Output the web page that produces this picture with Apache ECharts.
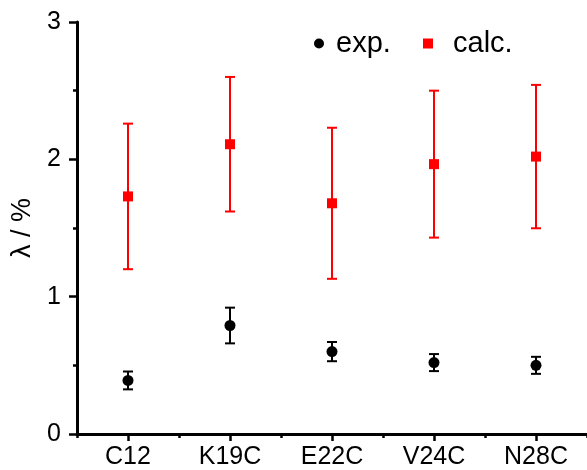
<!DOCTYPE html>
<html>
<head>
<meta charset="utf-8">
<script src="https://cdn.jsdelivr.net/npm/echarts@6/dist/echarts.min.js"></script>
<style>html,body{margin:0;padding:0;background:#fff;}#c{width:587px;height:470px;}</style>
</head>
<body>
<div id="c"></div>
<script>
const categories = ['C12', 'K19C', 'E22C', 'V24C', 'N28C'];
const expValues = [0.39, 0.79, 0.60, 0.52, 0.50];
const expErrors = [0.065, 0.13, 0.07, 0.062, 0.062];
const calcValues = [1.73, 2.11, 1.68, 1.965, 2.02];
const calcErrors = [0.53, 0.49, 0.55, 0.535, 0.522];
const yTicks = [0, 1, 2, 3];

const FONT = 'Liberation Sans, Arial, sans-serif';

function errData(vals, errs) {
  return vals.map((v, i) => [i, v, errs[i]]);
}
function errRenderer(color) {
  return function (params, api) {
    const x = api.value(0), v = api.value(1), e = api.value(2);
    const top = api.coord([x, v + e]);
    const bot = api.coord([x, v - e]);
    const hw = 5;
    const st = { stroke: color, lineWidth: 2 };
    return {
      type: 'group',
      children: [
        { type: 'line', shape: { x1: top[0], y1: top[1], x2: bot[0], y2: bot[1] }, style: st },
        { type: 'line', shape: { x1: top[0] - hw, y1: top[1], x2: top[0] + hw, y2: top[1] }, style: st },
        { type: 'line', shape: { x1: bot[0] - hw, y1: bot[1], x2: bot[0] + hw, y2: bot[1] }, style: st }
      ]
    };
  };
}

const chart = echarts.init(document.getElementById('c'), null, { renderer: 'canvas' });
chart.setOption({
  animation: false,
  backgroundColor: '#fff',
  grid: { left: 77, right: 0, top: 22, bottom: 36, containLabel: false },
  legend: [
    {
      data: [{ name: 'exp.', icon: 'circle', itemStyle: { color: '#000', opacity: 1 } }],
      left: 309, top: 24, itemWidth: 10, itemHeight: 10,
      textStyle: { fontSize: 29, color: '#000', fontFamily: FONT, padding: [0, 0, 0, 7] },
      selectedMode: false
    },
    {
      data: [{ name: 'calc.', icon: 'rect', itemStyle: { color: '#ff0000', opacity: 1 } }],
      left: 418, top: 24, itemWidth: 10, itemHeight: 10,
      textStyle: { fontSize: 29, color: '#000', fontFamily: FONT, padding: [0, 0, 0, 15] },
      selectedMode: false
    }
  ],
  xAxis: [
    {
      type: 'category', data: categories, boundaryGap: true,
      axisLine: { show: true, lineStyle: { color: '#000', width: 3 } },
      axisTick: { show: true, alignWithLabel: false, length: 4, lineStyle: { color: '#000', width: 2.5 } },
      axisLabel: { show: false },
      splitLine: { show: false }
    },
    {
      type: 'category', data: categories, boundaryGap: true, position: 'bottom',
      axisLine: { show: false },
      axisTick: { show: true, alignWithLabel: true, length: 7, lineStyle: { color: '#000', width: 2.5 } },
      axisLabel: { show: true, margin: 11, fontSize: 25, color: '#000', fontFamily: FONT },
      splitLine: { show: false }
    }
  ],
  yAxis: {
    type: 'value', min: yTicks[0], max: yTicks[yTicks.length - 1], interval: 1,
    name: 'λ / %', nameLocation: 'middle', nameGap: 40,
    nameTextStyle: { fontSize: 27, color: '#000', fontFamily: FONT },
    axisLine: { show: true, lineStyle: { color: '#000', width: 3 } },
    axisTick: { show: true, length: 8, lineStyle: { color: '#000', width: 2.5 } },
    minorTick: { show: true, splitNumber: 2, length: 4, lineStyle: { color: '#000', width: 2.5 } },
    axisLabel: { margin: 16, fontSize: 25, color: '#000', fontFamily: FONT },
    splitLine: { show: false }
  },
  series: [
    {
      type: 'custom', name: 'calcErr', xAxisIndex: 0, renderItem: errRenderer('#ff0000'),
      data: errData(calcValues, calcErrors), encode: { x: 0, y: 1 }, z: 1
    },
    {
      type: 'custom', name: 'expErr', xAxisIndex: 0, renderItem: errRenderer('#000000'),
      data: errData(expValues, expErrors), encode: { x: 0, y: 1 }, z: 1
    },
    {
      type: 'scatter', name: 'exp.', xAxisIndex: 0, symbol: 'circle', symbolSize: 11,
      itemStyle: { color: '#000', opacity: 1 }, data: expValues, z: 3
    },
    {
      type: 'scatter', name: 'calc.', xAxisIndex: 0, symbol: 'rect', symbolSize: 10,
      itemStyle: { color: '#ff0000', opacity: 1 }, data: calcValues, z: 3
    }
  ]
});
</script>
</body>
</html>
